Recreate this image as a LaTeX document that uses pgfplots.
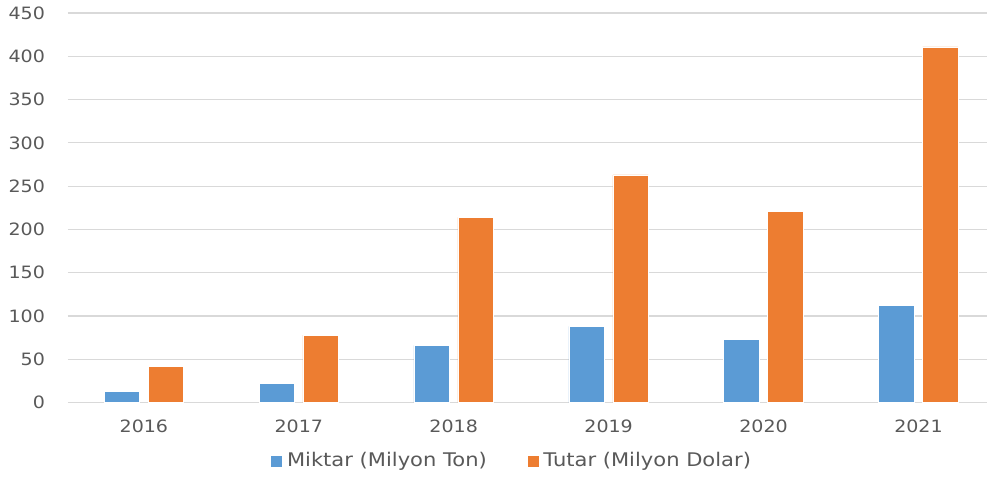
\documentclass[border=0pt]{standalone}
\usepackage{pgfplots}
\pgfplotsset{compat=1.18}
\usepackage{fontspec}
\setmainfont[FakeStretch=1.12]{DejaVu Sans}
\definecolor{cblue}{HTML}{5B9BD5}
\definecolor{corange}{HTML}{ED7D31}
\definecolor{ctext}{HTML}{595959}
\definecolor{cgrid}{HTML}{D9D9D9}
\begin{document}
\begin{tikzpicture}
\begin{axis}[
  name=ax,
  scale only axis,
  width=460pt, height=194.85pt,
  xmin=-0.49, xmax=5.445,
  ymin=0, ymax=450,
  ytick={0,50,...,450},
  xtick={0,1,2,3,4,5},
  xticklabels={2016,2017,2018,2019,2020,2021},
  ymajorgrids,
  grid style={cgrid, line width=0.6pt},
  axis line style={draw=none},
  major tick length=0pt,
  tick label style={font=\fontsize{8.5}{10}\selectfont, text=ctext},
  /pgf/number format/assume math mode=true,
  yticklabel style={xshift=-8pt},
  xticklabel style={yshift=-5pt},
  ybar, bar width=17.8pt,
  legend style={at={(0.4837,-0.1496)}, anchor=center, draw=none,
    legend columns=2, font=\fontsize{9.4}{11}\selectfont, text=ctext,
    /tikz/every even column/.append style={column sep=18pt}},
  legend image code/.code={\fill[#1] (0pt,-3pt) rectangle (6pt,3pt);},
  clip=false,
]
\addplot[fill=cblue, draw=white, line width=0.3pt, bar shift=-11pt] coordinates {(0,13) (1,22.5) (2,66) (3,88) (4,73) (5,112)};
\addlegendentry{Miktar (Milyon Ton)}
\addplot[fill=corange, draw=white, line width=0.3pt, bar shift=11pt] coordinates {(0,42) (1,78) (2,214) (3,263) (4,221) (5,411)};
\addlegendentry{Tutar (Milyon Dolar)}
\end{axis}
\path (ax.south west) ++(-34pt,-36.65pt) coordinate (bl);
\path (ax.north east) ++(0pt,6.5pt) coordinate (tr);
\path (bl) rectangle (tr);
\end{tikzpicture}
\end{document}
